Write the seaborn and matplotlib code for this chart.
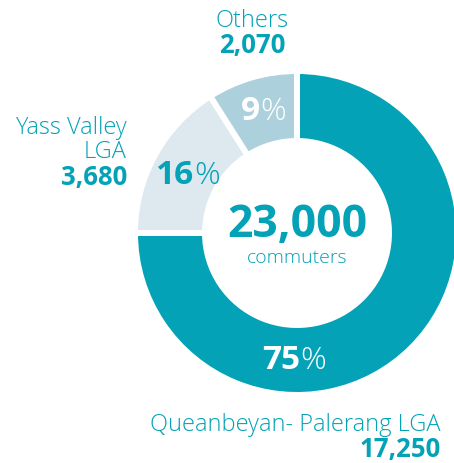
import matplotlib
matplotlib.use("Agg")
import matplotlib.pyplot as plt
import seaborn as sns

# Commuter origins
categories = ["Queanbeyan- Palerang LGA", "Yass Valley\nLGA", "Others"]
commuters = [17250, 3680, 2070]
value_labels = ["17,250", "3,680", "2,070"]
pct_labels = ["75", "16", "9"]
total_label = "23,000"
total_caption = "commuters"

TEAL = "#03A2B7"
colors = sns.color_palette([TEAL, "#DDE8EF", "#ACD0DC"])
pct_colors = ["white", TEAL, "white"]

sns.set_theme(style="white")
plt.rcParams["font.family"] = ["Open Sans", "DejaVu Sans"]
LIGHT = 300

W, H = 454, 464
fig = plt.figure(figsize=(W / 100, H / 100), dpi=100)
ax = fig.add_axes([0, 0, 1, 1])
ax.set_xlim(0, W)
ax.set_ylim(0, H)
ax.set_aspect("equal")
ax.axis("off")

def Y(y):
    return H - y

cx, cy, R = 297, 234, 162
ax.pie(commuters, colors=colors, startangle=90, counterclock=False,
       center=(cx, Y(cy)), radius=R,
       wedgeprops=dict(width=70, edgecolor="white", linewidth=4.3))
ax.set_xlim(0, W)
ax.set_ylim(0, H)

# centre total
ax.text(cx, Y(226), total_label, ha="center", va="center", color=TEAL,
        fontsize=32, fontweight="bold")
ax.text(cx, Y(258), total_caption, ha="center", va="center", color=TEAL,
        fontsize=14, fontweight=LIGHT)

# percentages inside the ring: bold number, lighter percent sign
pct_pos = [(300, 361), (194, 176), (260, 112)]
for (px, py), num, col in zip(pct_pos, pct_labels, pct_colors):
    t = ax.text(px, Y(py), num, ha="right", va="center", color=col,
                fontsize=24, fontweight="bold")
    ax.annotate("%", xy=(1, 0.5), xycoords=t, xytext=(0, 0),
                textcoords="offset points", ha="left", va="center",
                color=col, fontsize=23, fontweight=LIGHT)

# category labels with counts
ax.text(441, Y(425), categories[0], ha="right", va="center", color=TEAL,
        fontsize=17, fontweight=LIGHT)
ax.text(441, Y(450), value_labels[0], ha="right", va="center", color=TEAL,
        fontsize=18.5, fontweight="bold")

ax.text(127, Y(128), "Yass Valley", ha="right", va="center", color=TEAL,
        fontsize=17, fontweight=LIGHT)
ax.text(127, Y(152), "LGA", ha="right", va="center", color=TEAL,
        fontsize=17, fontweight=LIGHT)
ax.text(127, Y(178), value_labels[1], ha="right", va="center", color=TEAL,
        fontsize=18.5, fontweight="bold")

ax.text(252, Y(21), categories[2], ha="center", va="center", color=TEAL,
        fontsize=17, fontweight=LIGHT)
ax.text(252, Y(46), value_labels[2], ha="center", va="center", color=TEAL,
        fontsize=18.5, fontweight="bold")

fig.savefig("out.png", dpi=100, facecolor="white")
